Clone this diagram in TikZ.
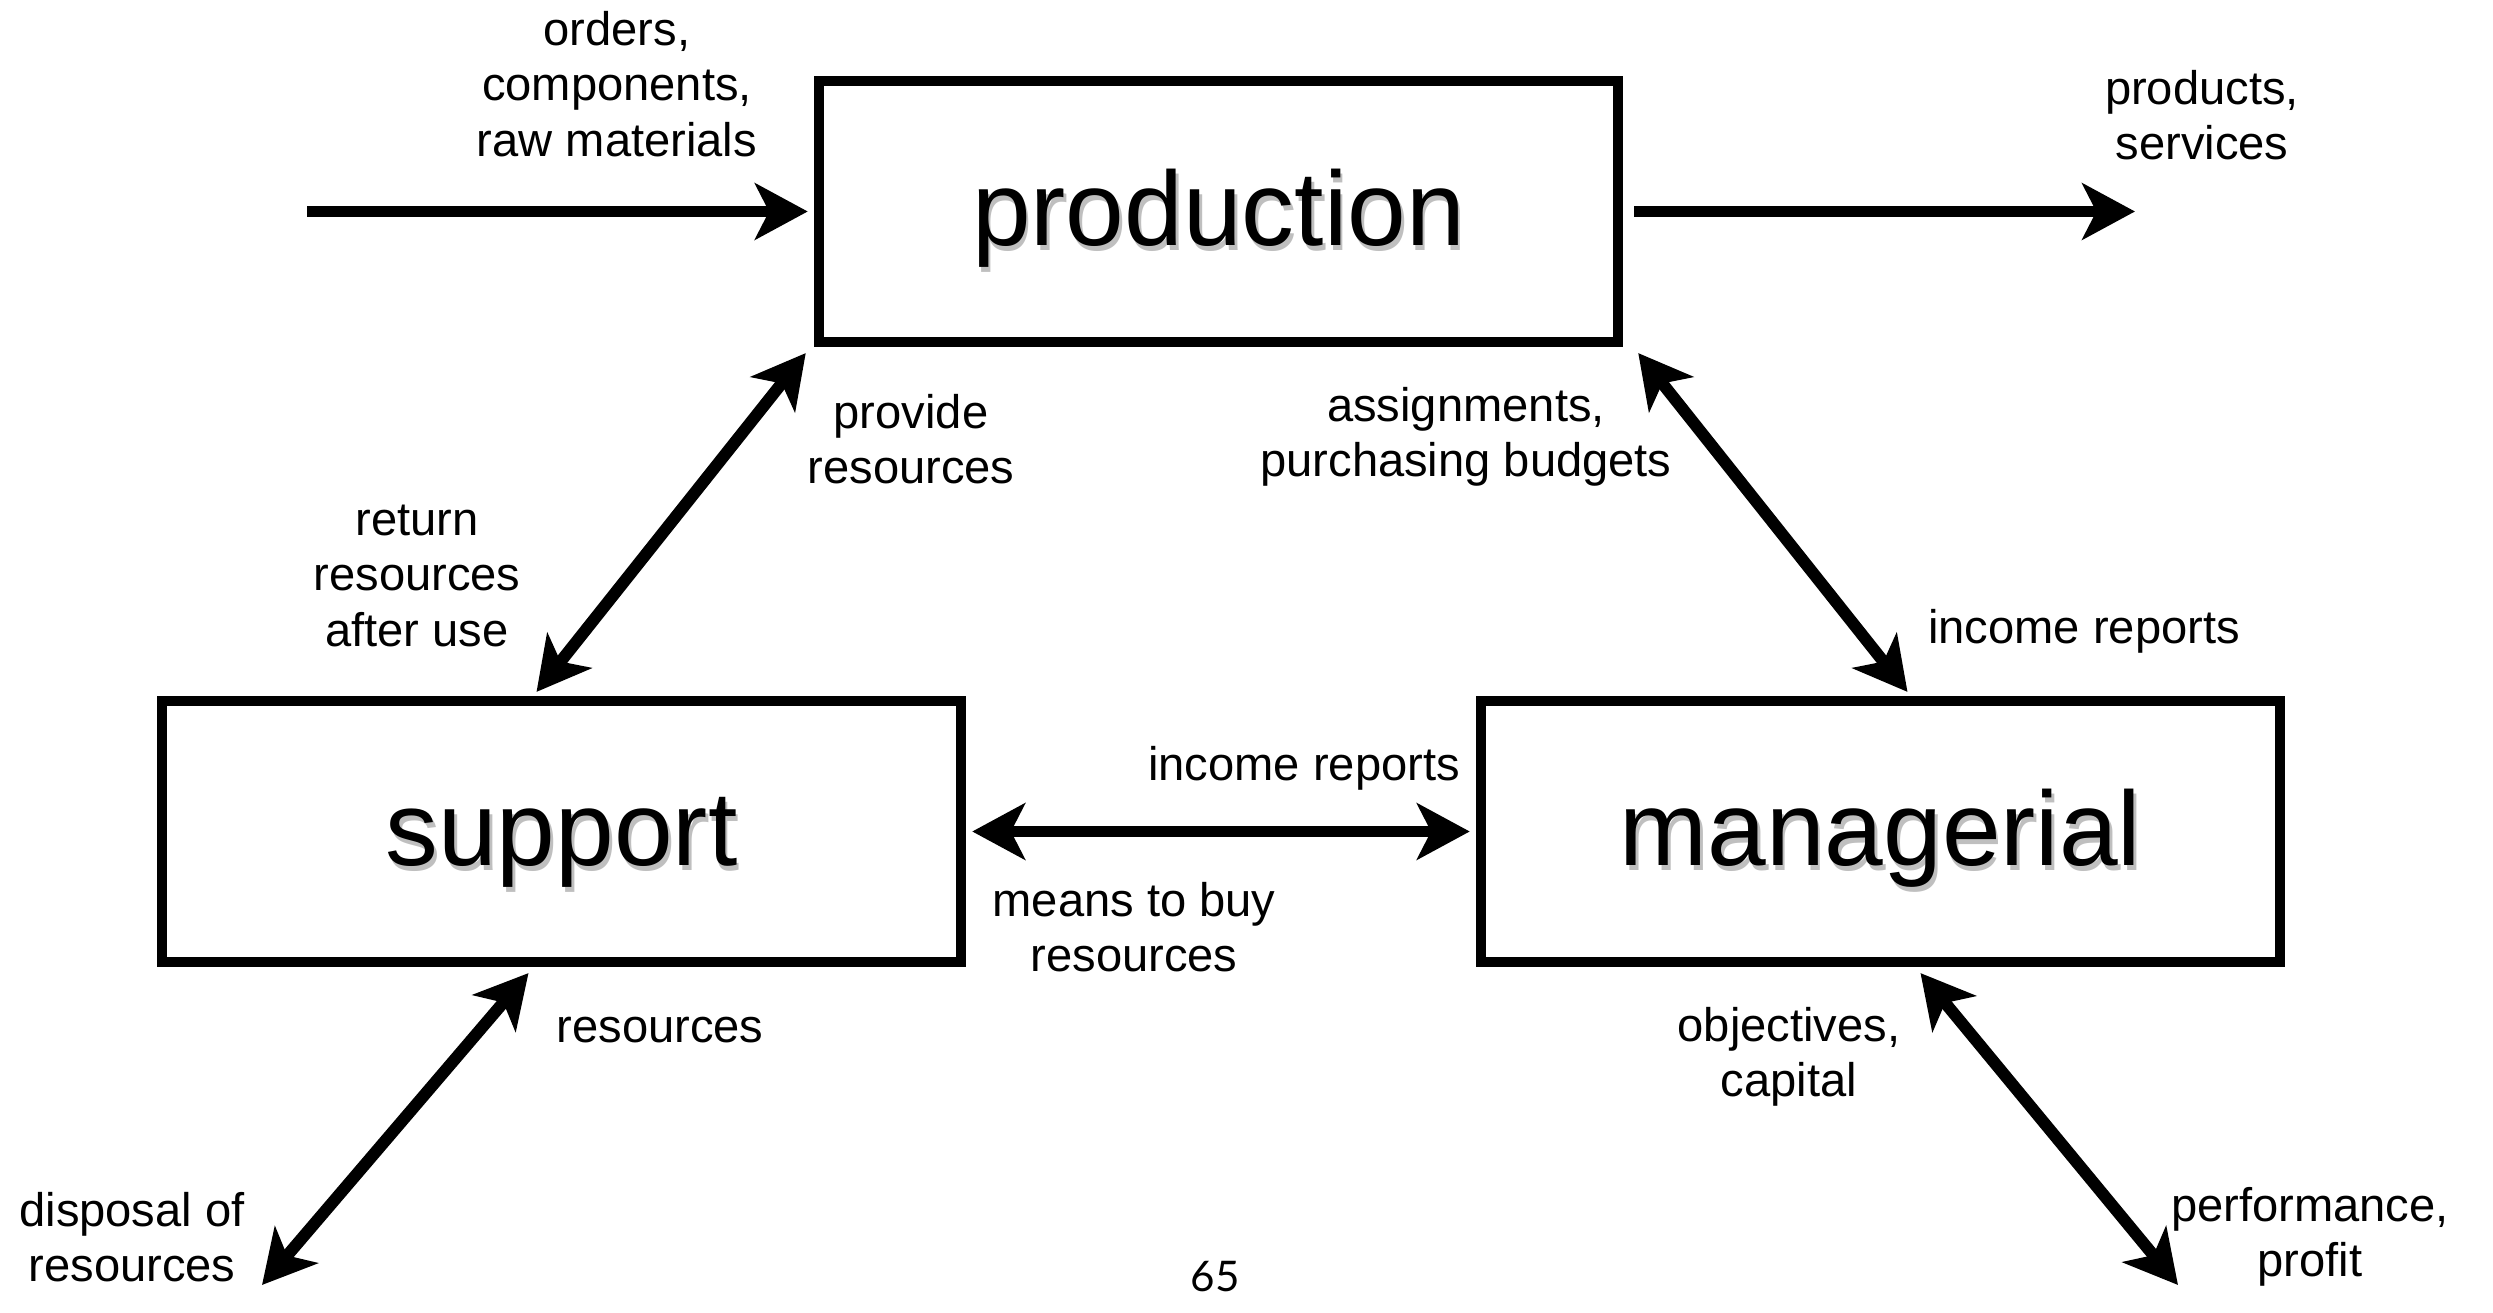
\documentclass[tikz,border=0pt]{standalone}
\usepackage{fontspec}
\setmainfont{Liberation Sans}
\newfontfamily\pagenumfont{Lato}
\usetikzlibrary{arrows.meta,positioning}

% box titles carry a soft grey drop shadow
\newcommand{\boxtext}[1]{\rlap{\color{black!25}\raisebox{-1.5pt}{\hspace{0.8pt}#1}}#1}

\begin{document}
\begin{tikzpicture}[x=0.01cm, y=-0.01cm,
    area/.style={draw, line width=2.85pt, minimum width=7.99cm, minimum height=2.61cm, text height=19.2pt, text depth=0pt, font=\fontsize{30}{36}\selectfont},
    lbl/.style={align=center, inner sep=0pt, font=\fontsize{13.4}{15.8}\selectfont},
    flow/.style={line width=3.4pt, -{Stealth[length=15pt,width=16pt,inset=4pt]}},
    twoway/.style={line width=3.4pt, {Stealth[length=15pt,width=16pt,inset=4pt]}-{Stealth[length=15pt,width=16pt,inset=4pt]}}]

    \useasboundingbox (0,0) rectangle (2493,1313);

    % Nodes
    \node (production) [area] at (1218.5,211.5) {\boxtext{production}};
    \node (support) [area] at (561.5,831.5) {\boxtext{support}};
    \node (managerial) [area] at (1880.5,831.5) {\boxtext{managerial}};

    \coordinate (inflow) at (307,211.5);
    \coordinate (outflow) at (2135,211.5);
    \coordinate (disposal) at (262,1285);
    \coordinate (owners) at (2178,1285);

    % Labels
    \node (orders) [lbl] at (617,84) {orders,\\components,\\raw materials};
    \node (products) [lbl] at (2202,115) {products,\\services};
    \node (provide) [lbl] at (911,439) {provide\\resources};
    \node (assign) [lbl] at (1466,437) {assignments,\\purchasing budgets};
    \node (return) [lbl] at (417,576) {return\\resources\\after use};
    \node (incomeright) [lbl] at (2084,631) {income reports};
    \node (incomemid) [lbl] at (1304,768) {income reports};
    \node (means) [lbl] at (1134,927) {means to buy\\resources};
    \node (resources) [lbl] at (660,1030) {resources};
    \node (objectives) [lbl] at (1789,1057) {objectives,\\capital};
    \node (disposallbl) [lbl] at (132,1237) {disposal of\\resources};
    \node (performance) [lbl] at (2310,1237) {performance,\\profit};
    \node (pagenum) [font=\pagenumfont\fontsize{12}{14}\selectfont, inner sep=0pt] at (1215,1277) {65};

    % Arrows
    \draw[flow] (inflow) -- ([shift={(-6,0)}]production.west);
    \draw[flow] ([shift={(11,0)}]production.east) -- (outflow);
    \draw[twoway] ([shift={(-8,6)}]production.south west) -- ([shift={(-25,-4)}]support.north);
    \draw[twoway] ([shift={(15,6)}]production.south east) -- ([shift={(27,-4)}]managerial.north);
    \draw[twoway] ([shift={(6,0)}]support.east) -- ([shift={(-6,0)}]managerial.west);
    \draw[twoway] ([shift={(-33,6)}]support.south) -- (disposal);
    \draw[twoway] ([shift={(40,6)}]managerial.south) -- (owners);

\end{tikzpicture}
\end{document}
